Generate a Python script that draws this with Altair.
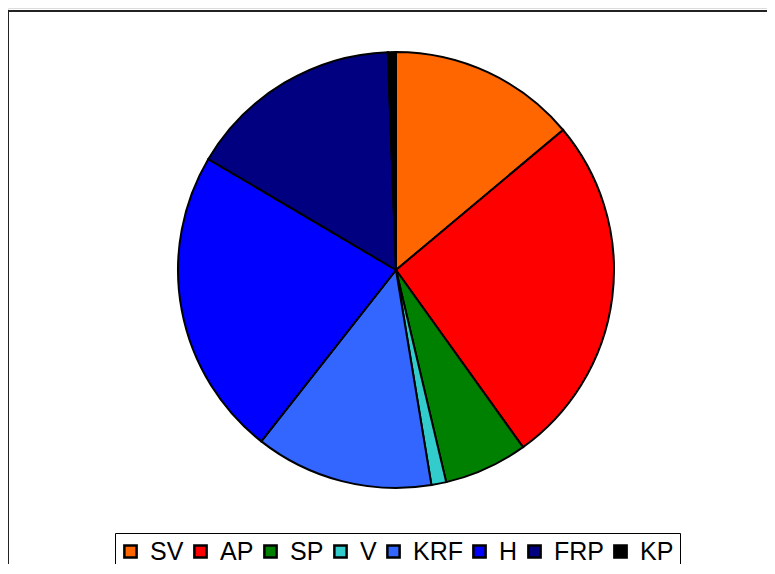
import altair as alt
import pandas as pd

parties = ["SV", "AP", "SP", "V", "KRF", "H", "FRP", "KP"]
shares = [13.9, 26.2, 6.2, 1.1, 13.2, 22.9, 15.9, 0.6]
colors = ["#FF6600", "#FF0000", "#008000", "#33CCCC", "#3366FF", "#0000FF", "#000080", "#000000"]

df = pd.DataFrame({"party": parties, "share": shares, "idx": list(range(len(parties)))})

pie = alt.Chart(df).mark_arc(radius=218, stroke="black", strokeWidth=2).encode(
    theta=alt.Theta("share:Q", stack=True),
    order=alt.Order("idx:Q"),
    x=alt.value(388),
    y=alt.value(262),
    fill=alt.Fill(
        "party:N",
        scale=alt.Scale(domain=parties, range=colors),
        sort=parties,
        legend=alt.Legend(
            title=None,
            orient="none",
            legendX=107,
            legendY=525,
            direction="horizontal",
            columns=8,
            gridAlign="none",
            symbolType="square",
            symbolSize=150,
            symbolStrokeColor="black",
            symbolStrokeWidth=2.5,
            symbolOffset=-3,
            labelFont="Liberation Sans",
            labelFontSize=25,
            labelColor="black",
            labelOffset=7,
            columnPadding=5,
            padding=6,
            strokeColor="black",
            fillColor="white",
        ),
    ),
)

frame_top = alt.Chart(df).mark_rule(color="#222222", strokeWidth=2).encode(
    x=alt.value(0), x2=alt.value(759), y=alt.value(3)
)
frame_left = alt.Chart(df).mark_rule(color="#222222", strokeWidth=2).encode(
    x=alt.value(0), y=alt.value(3), y2=alt.value(556)
)

chart = (
    alt.layer(frame_top, frame_left, pie)
    .properties(
        width=759,
        height=556,
        autosize=alt.AutoSizeParams(type="none"),
        padding={"left": 0, "top": 0, "right": 0, "bottom": 0},
    )
    .configure_view(stroke=None)
    .configure_legend(symbolStrokeColor="black", symbolStrokeWidth=2.5)
    .configure(background="white")
)

chart.save("out.html", embed_options={"renderer": "svg", "actions": False})
